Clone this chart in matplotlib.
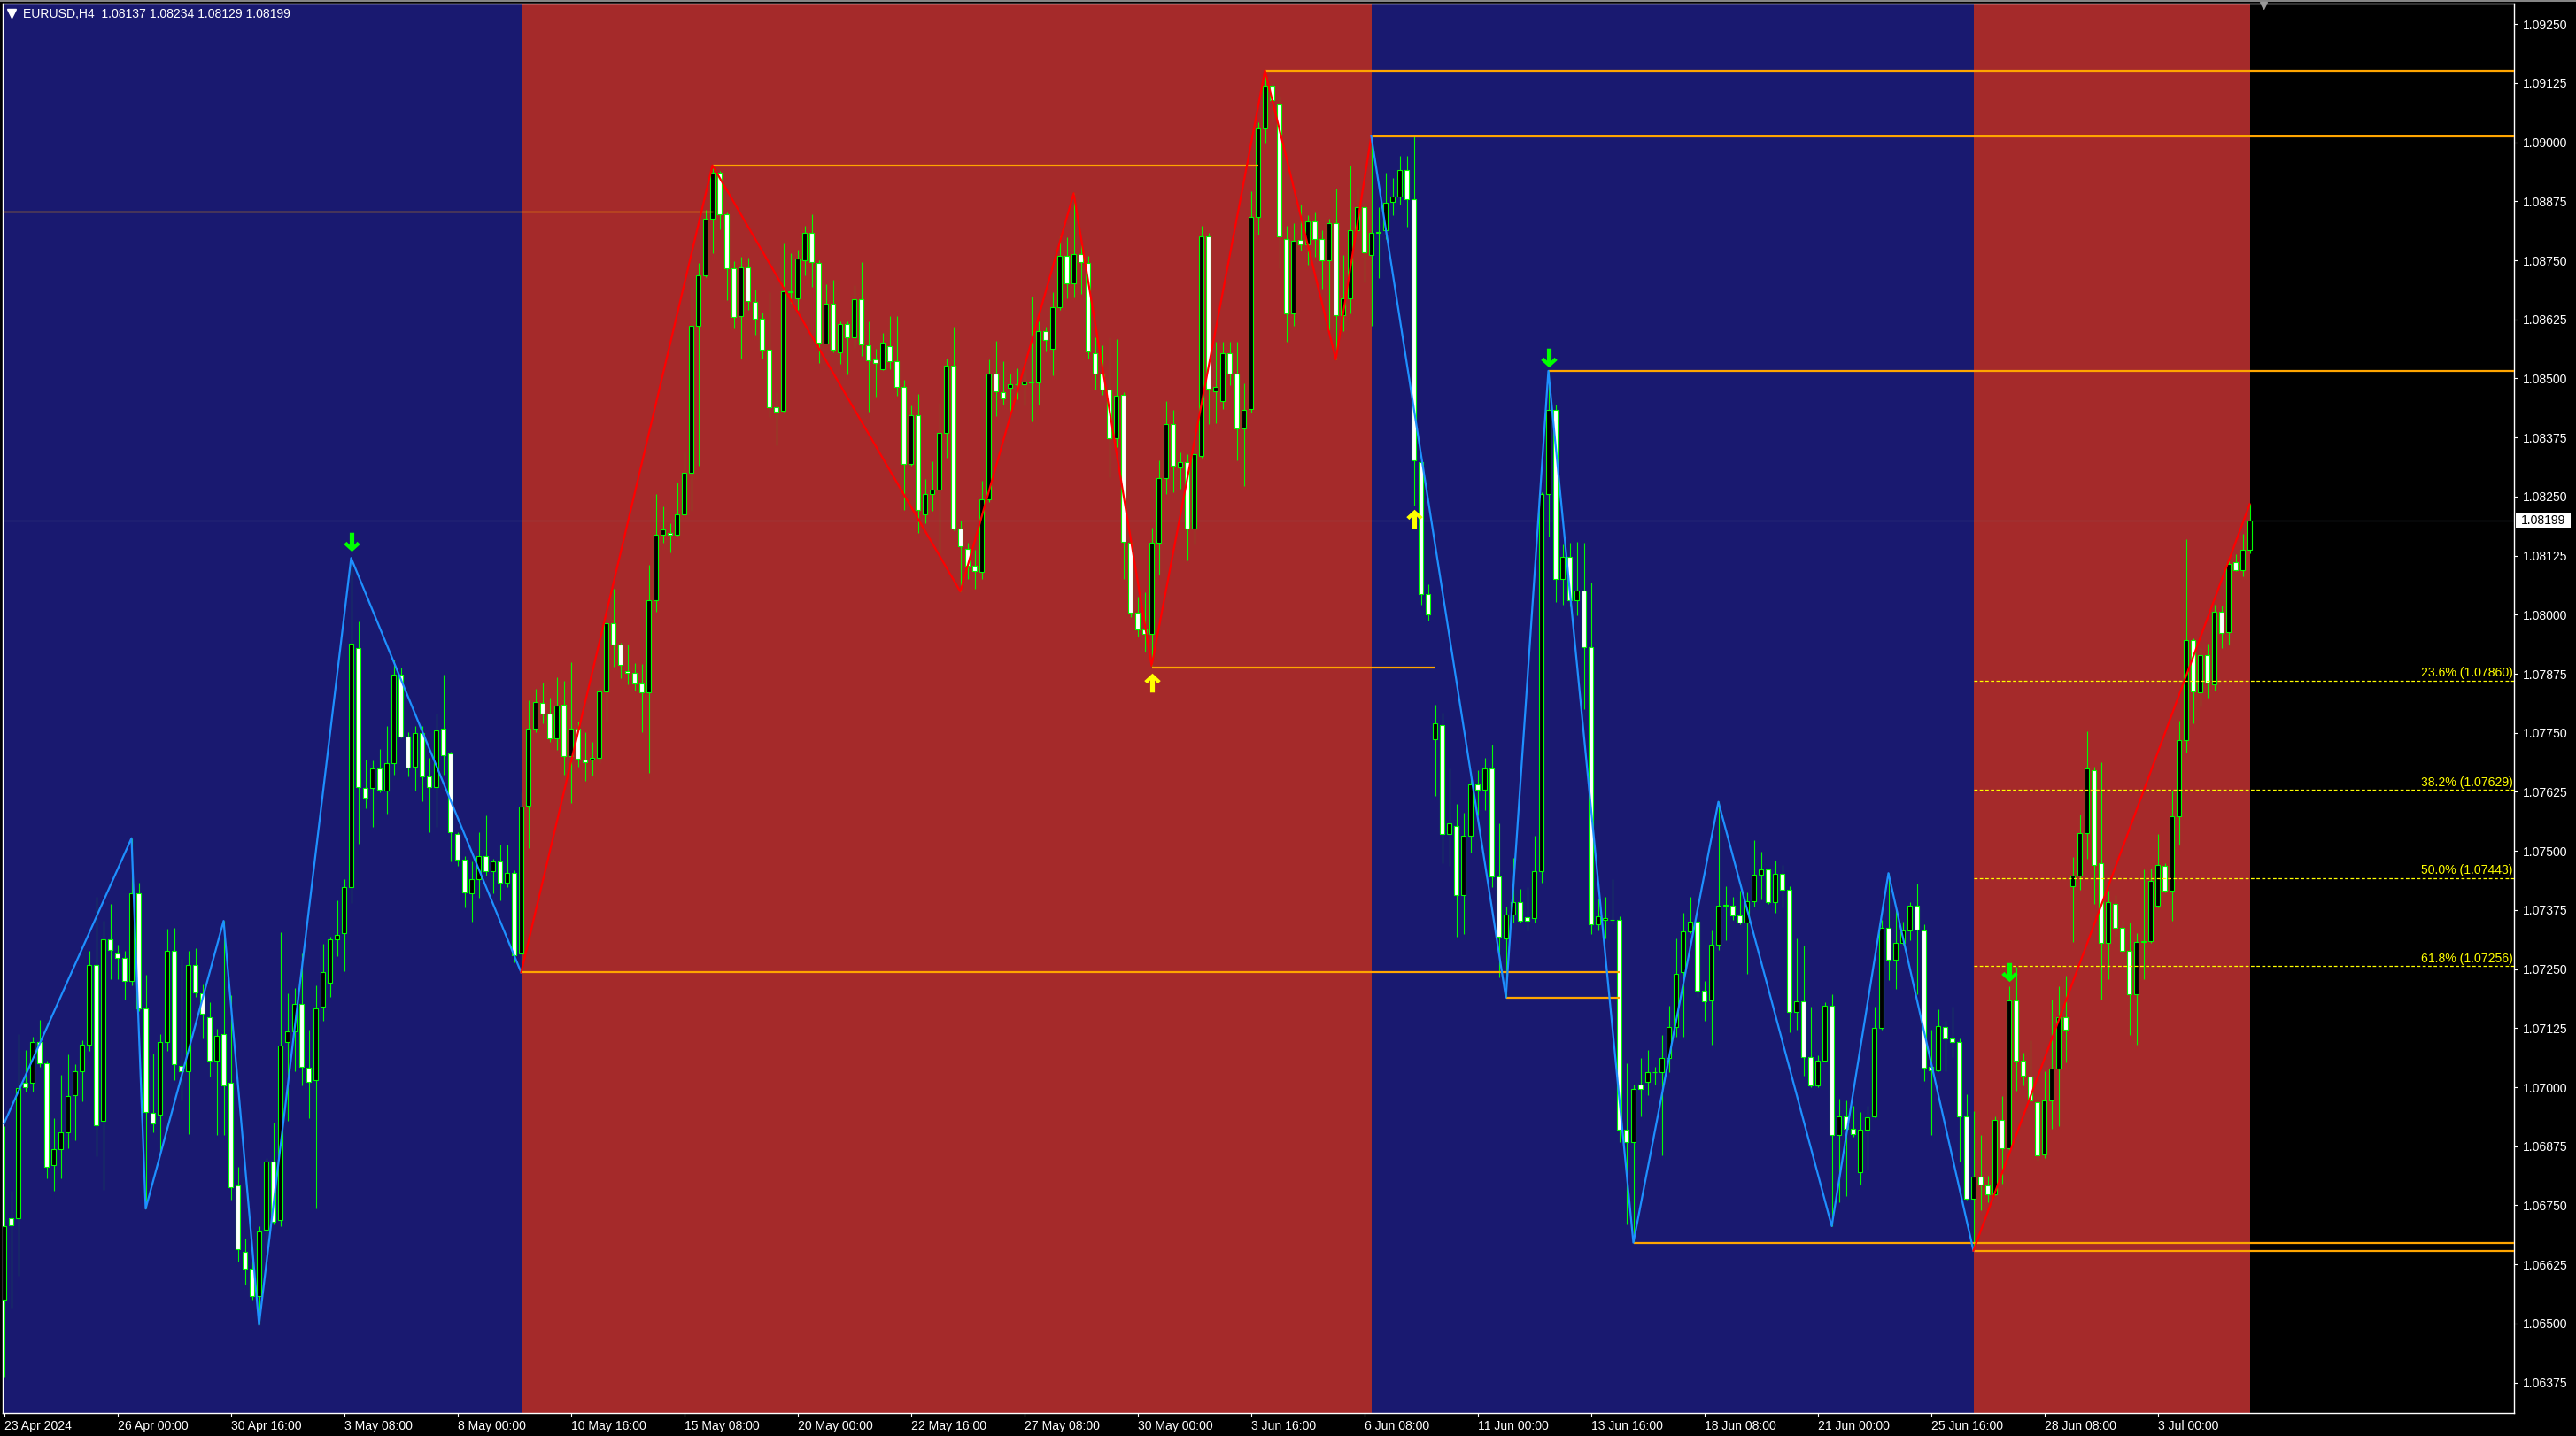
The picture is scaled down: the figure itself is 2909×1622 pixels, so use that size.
import numpy as np
import matplotlib
matplotlib.use("Agg")
import matplotlib.pyplot as plt
import matplotlib.transforms as mtransforms
from matplotlib.path import Path
from matplotlib.patches import Rectangle
from matplotlib.ticker import MultipleLocator, FormatStrFormatter

plt.rcParams['font.family'] = ['Liberation Sans', 'DejaVu Sans']

W, H, DPI = 2909, 1622, 100

# ------------------------------------------------------------
# EURUSD H4 candles (bar 0 = 23 Apr 2024 08:00)
# ------------------------------------------------------------
opens = [
    1.06551, 1.06722, 1.06722, 1.07009, 1.07009, 1.07096, 1.07051, 1.06836, 1.06868, 1.06905,
    1.06984, 1.07033, 1.07090, 1.07259, 1.06929, 1.07313, 1.07283, 1.07273, 1.07224, 1.07411,
    1.07167, 1.06945, 1.06942, 1.07096, 1.07289, 1.07045, 1.07033, 1.07259, 1.07198, 1.07149,
    1.07057, 1.07112, 1.07009, 1.06792, 1.06652, 1.06616, 1.06558, 1.06698, 1.06842, 1.06719,
    1.07096, 1.07118, 1.07177, 1.07041, 1.07015, 1.07170, 1.07222, 1.07313, 1.07326, 1.07423,
    1.07929, 1.07633, 1.07633, 1.07675, 1.07628, 1.07685, 1.07874, 1.07742, 1.07679, 1.07750,
    1.07657, 1.07636, 1.07758, 1.07706, 1.07535, 1.07482, 1.07411, 1.07441, 1.07490, 1.07457,
    1.07478, 1.07433, 1.07454, 1.07283, 1.07596, 1.07758, 1.07813, 1.07791, 1.07739, 1.07809,
    1.07700, 1.07759, 1.07693, 1.07693, 1.07697, 1.07837, 1.07982, 1.07937, 1.07881, 1.07877,
    1.07854, 1.07836, 1.08031, 1.08170, 1.08173, 1.08169, 1.08213, 1.08300, 1.08612, 1.08719,
    1.08838, 1.08936, 1.08847, 1.08733, 1.08633, 1.08735, 1.08662, 1.08627, 1.08561, 1.08440,
    1.08431, 1.08683, 1.08670, 1.08751, 1.08808, 1.08745, 1.08574, 1.08658, 1.08556, 1.08615,
    1.08588, 1.08667, 1.08571, 1.08540, 1.08520, 1.08569, 1.08536, 1.08483, 1.08320, 1.08423,
    1.08213, 1.08256, 1.08265, 1.08385, 1.08527, 1.08182, 1.08140, 1.08104, 1.08090, 1.08245,
    1.08511, 1.08471, 1.08480, 1.08487, 1.08487, 1.08494, 1.08492, 1.08600, 1.08563, 1.08651,
    1.08760, 1.08701, 1.08763, 1.08744, 1.08554, 1.08511, 1.08476, 1.08373, 1.08465, 1.08152,
    1.08004, 1.07968, 1.07959, 1.08152, 1.08289, 1.08403, 1.08311, 1.08322, 1.08182, 1.08336,
    1.08801, 1.08473, 1.08453, 1.08553, 1.08511, 1.08394, 1.08436, 1.08841, 1.09030, 1.09119,
    1.09080, 1.08796, 1.08637, 1.08794, 1.08784, 1.08833, 1.08796, 1.08751, 1.08829, 1.08634,
    1.08670, 1.08813, 1.08863, 1.08762, 1.08808, 1.08813, 1.08874, 1.08885, 1.08941, 1.08880,
    1.08322, 1.08043, 1.07737, 1.07767, 1.07536, 1.07553, 1.07407, 1.07533, 1.07640, 1.07630,
    1.07675, 1.07446, 1.07315, 1.07365, 1.07391, 1.07359, 1.07357, 1.07457, 1.08255, 1.08433,
    1.08076, 1.08122, 1.08031, 1.08051, 1.07931, 1.07345, 1.07355, 1.07355, 1.07355, 1.06910,
    1.06884, 1.07006, 1.07011, 1.07031, 1.07031, 1.07061, 1.07128, 1.07243, 1.07329, 1.07351,
    1.07205, 1.07183, 1.07301, 1.07385, 1.07385, 1.07364, 1.07348, 1.07394, 1.07450, 1.07461,
    1.07391, 1.07452, 1.07418, 1.07159, 1.07181, 1.07063, 1.07004, 1.07057, 1.07172, 1.06899,
    1.06939, 1.06912, 1.06821, 1.06910, 1.06939, 1.07125, 1.07337, 1.07269, 1.07305, 1.07332,
    1.07385, 1.07332, 1.07043, 1.07036, 1.07127, 1.07104, 1.07095, 1.06939, 1.06764, 1.06810,
    1.06792, 1.06774, 1.06931, 1.06871, 1.07183, 1.07057, 1.07022, 1.06968, 1.06858, 1.06971,
    1.07039, 1.07149, 1.07426, 1.07448, 1.07538, 1.07670, 1.07474, 1.07305, 1.07388, 1.07337,
    1.07289, 1.07197, 1.07308, 1.07310, 1.07385, 1.07469, 1.07416, 1.07574, 1.07735, 1.07947,
    1.07835, 1.07915, 1.07853, 1.08007, 1.07964, 1.08111, 1.08095, 1.08137,
]
highs = [
    1.06917, 1.06781, 1.07112, 1.07079, 1.07106, 1.07143, 1.07057, 1.06935, 1.07027, 1.07070,
    1.07048, 1.07100, 1.07289, 1.07402, 1.07352, 1.07387, 1.07301, 1.07289, 1.07527, 1.07433,
    1.07238, 1.07072, 1.07112, 1.07335, 1.07338, 1.07271, 1.07289, 1.07295, 1.07218, 1.07179,
    1.07124, 1.07352, 1.07194, 1.06832, 1.06680, 1.06633, 1.06706, 1.06850, 1.06926, 1.07328,
    1.07198, 1.07210, 1.07283, 1.07121, 1.07216, 1.07304, 1.07319, 1.07395, 1.07441, 1.08120,
    1.07986, 1.07694, 1.07691, 1.07716, 1.07764, 1.07905, 1.07889, 1.07752, 1.07764, 1.07764,
    1.07697, 1.07791, 1.07874, 1.07710, 1.07539, 1.07490, 1.07478, 1.07539, 1.07575, 1.07484,
    1.07514, 1.07514, 1.07460, 1.07624, 1.07819, 1.07844, 1.07856, 1.07825, 1.07868, 1.07861,
    1.07900, 1.07773, 1.07752, 1.07731, 1.07846, 1.07991, 1.08055, 1.07940, 1.07937, 1.07897,
    1.07895, 1.08106, 1.08256, 1.08229, 1.08193, 1.08279, 1.08345, 1.08694, 1.08744, 1.08857,
    1.08951, 1.08939, 1.08851, 1.08749, 1.08758, 1.08756, 1.08688, 1.08640, 1.08683, 1.08470,
    1.08785, 1.08765, 1.08772, 1.08823, 1.08847, 1.08751, 1.08699, 1.08708, 1.08620, 1.08620,
    1.08697, 1.08747, 1.08620, 1.08563, 1.08597, 1.08633, 1.08633, 1.08497, 1.08443, 1.08467,
    1.08288, 1.08324, 1.08449, 1.08542, 1.08610, 1.08200, 1.08152, 1.08138, 1.08283, 1.08540,
    1.08579, 1.08536, 1.08511, 1.08521, 1.08536, 1.08674, 1.08620, 1.08609, 1.08683, 1.08801,
    1.08799, 1.08892, 1.08788, 1.08760, 1.08588, 1.08570, 1.08588, 1.08583, 1.08470, 1.08156,
    1.08038, 1.08048, 1.08185, 1.08327, 1.08453, 1.08433, 1.08344, 1.08339, 1.08386, 1.08824,
    1.08808, 1.08578, 1.08578, 1.08578, 1.08578, 1.08490, 1.08896, 1.09042, 1.09152, 1.09125,
    1.09097, 1.08824, 1.08829, 1.08868, 1.08846, 1.08851, 1.08813, 1.08838, 1.08901, 1.08762,
    1.08951, 1.08905, 1.08871, 1.09013, 1.08863, 1.08935, 1.08925, 1.08972, 1.08972, 1.09013,
    1.08327, 1.08065, 1.07809, 1.07792, 1.07675, 1.07600, 1.07580, 1.07667, 1.07670, 1.07697,
    1.07725, 1.07558, 1.07382, 1.07486, 1.07419, 1.07424, 1.07533, 1.08260, 1.08516, 1.08445,
    1.08148, 1.08152, 1.08155, 1.08152, 1.08068, 1.07399, 1.07402, 1.07441, 1.07362, 1.07051,
    1.07006, 1.07061, 1.07078, 1.07044, 1.07111, 1.07173, 1.07315, 1.07369, 1.07402, 1.07359,
    1.07224, 1.07332, 1.07606, 1.07426, 1.07402, 1.07416, 1.07412, 1.07523, 1.07498, 1.07463,
    1.07480, 1.07471, 1.07426, 1.07315, 1.07299, 1.07170, 1.07068, 1.07179, 1.07197, 1.06975,
    1.06971, 1.06961, 1.06947, 1.06961, 1.07170, 1.07355, 1.07453, 1.07375, 1.07351, 1.07391,
    1.07431, 1.07345, 1.07122, 1.07165, 1.07140, 1.07170, 1.07104, 1.06985, 1.06950, 1.06899,
    1.06813, 1.06939, 1.06982, 1.07213, 1.07254, 1.07073, 1.07100, 1.06982, 1.07033, 1.07186,
    1.07213, 1.07237, 1.07488, 1.07577, 1.07753, 1.07678, 1.07687, 1.07416, 1.07407, 1.07355,
    1.07348, 1.07326, 1.07461, 1.07463, 1.07536, 1.07474, 1.07627, 1.07775, 1.08160, 1.07950,
    1.07929, 1.07939, 1.08022, 1.08020, 1.08122, 1.08128, 1.08171, 1.08234,
]
lows = [
    1.06387, 1.06533, 1.06600, 1.06990, 1.06990, 1.07043, 1.06807, 1.06780, 1.06807, 1.06871,
    1.06887, 1.06970, 1.07076, 1.06854, 1.06783, 1.07228, 1.07228, 1.07185, 1.07216, 1.07161,
    1.06743, 1.06905, 1.06865, 1.07076, 1.07015, 1.06972, 1.06901, 1.07191, 1.07104, 1.07023,
    1.06899, 1.06899, 1.06762, 1.06631, 1.06582, 1.06551, 1.06497, 1.06667, 1.06710, 1.06706,
    1.06929, 1.07033, 1.07003, 1.06935, 1.06743, 1.07140, 1.07191, 1.07277, 1.07246, 1.07389,
    1.07515, 1.07591, 1.07551, 1.07624, 1.07579, 1.07661, 1.07740, 1.07658, 1.07628, 1.07606,
    1.07539, 1.07551, 1.07661, 1.07478, 1.07469, 1.07380, 1.07350, 1.07401, 1.07447, 1.07411,
    1.07396, 1.07423, 1.07265, 1.07243, 1.07506, 1.07752, 1.07770, 1.07731, 1.07713, 1.07661,
    1.07602, 1.07679, 1.07648, 1.07659, 1.07686, 1.07773, 1.07891, 1.07866, 1.07852, 1.07840,
    1.07752, 1.07666, 1.08006, 1.08152, 1.08131, 1.08167, 1.08211, 1.08220, 1.08315, 1.08715,
    1.08765, 1.08815, 1.08665, 1.08606, 1.08542, 1.08645, 1.08592, 1.08542, 1.08418, 1.08358,
    1.08429, 1.08660, 1.08645, 1.08718, 1.08694, 1.08533, 1.08574, 1.08556, 1.08531, 1.08509,
    1.08565, 1.08547, 1.08429, 1.08461, 1.08517, 1.08520, 1.08463, 1.08222, 1.08315, 1.08173,
    1.08193, 1.08220, 1.08129, 1.08333, 1.08179, 1.08049, 1.08076, 1.08055, 1.08076, 1.08238,
    1.08420, 1.08445, 1.08422, 1.08456, 1.08443, 1.08409, 1.08445, 1.08558, 1.08506, 1.08645,
    1.08670, 1.08672, 1.08679, 1.08542, 1.08476, 1.08465, 1.08291, 1.08354, 1.08075, 1.07995,
    1.07954, 1.07921, 1.07892, 1.08085, 1.08255, 1.08260, 1.08266, 1.08115, 1.08148, 1.08332,
    1.08403, 1.08406, 1.08436, 1.08486, 1.08327, 1.08272, 1.08428, 1.08804, 1.08997, 1.09042,
    1.08734, 1.08578, 1.08612, 1.08771, 1.08741, 1.08757, 1.08690, 1.08603, 1.08540, 1.08600,
    1.08637, 1.08796, 1.08704, 1.08612, 1.08712, 1.08796, 1.08846, 1.08868, 1.08821, 1.08232,
    1.08021, 1.07988, 1.07616, 1.07474, 1.07469, 1.07318, 1.07324, 1.07496, 1.07575, 1.07586,
    1.07424, 1.07232, 1.07190, 1.07349, 1.07349, 1.07332, 1.07349, 1.07432, 1.08165, 1.08026,
    1.08021, 1.08018, 1.07998, 1.07800, 1.07324, 1.07332, 1.07315, 1.07345, 1.06884, 1.06710,
    1.06671, 1.06939, 1.06984, 1.07006, 1.06855, 1.07031, 1.07106, 1.07106, 1.07326, 1.07192,
    1.07140, 1.07090, 1.07291, 1.07312, 1.07355, 1.07344, 1.07240, 1.07383, 1.07398, 1.07388,
    1.07369, 1.07380, 1.07116, 1.07122, 1.07025, 1.07000, 1.07000, 1.07054, 1.06706, 1.06756,
    1.06770, 1.06896, 1.06794, 1.06826, 1.06936, 1.07122, 1.07226, 1.07208, 1.07302, 1.07312,
    1.07197, 1.07014, 1.06899, 1.07033, 1.07033, 1.07063, 1.06842, 1.06762, 1.06654, 1.06740,
    1.06756, 1.06772, 1.06796, 1.06867, 1.06993, 1.07004, 1.06968, 1.06845, 1.06850, 1.06912,
    1.06917, 1.07052, 1.07308, 1.07418, 1.07484, 1.07388, 1.07186, 1.07229, 1.07319, 1.07272,
    1.07111, 1.07090, 1.07229, 1.07305, 1.07380, 1.07412, 1.07353, 1.07514, 1.07708, 1.07771,
    1.07805, 1.07824, 1.07839, 1.07929, 1.07936, 1.08093, 1.08082, 1.08129,
]
closes = [
    1.06706, 1.06707, 1.06999, 1.07000, 1.07096, 1.07051, 1.06832, 1.06868, 1.06905, 1.06981,
    1.07033, 1.07090, 1.07259, 1.06920, 1.07313, 1.07291, 1.07274, 1.07224, 1.07411, 1.07167,
    1.06948, 1.06923, 1.07096, 1.07289, 1.07048, 1.07033, 1.07259, 1.07201, 1.07155, 1.07057,
    1.07109, 1.07003, 1.06789, 1.06658, 1.06616, 1.06558, 1.06694, 1.06842, 1.06716, 1.07088,
    1.07118, 1.07177, 1.07043, 1.07012, 1.07167, 1.07243, 1.07313, 1.07322, 1.07423, 1.07938,
    1.07636, 1.07612, 1.07675, 1.07630, 1.07685, 1.07874, 1.07742, 1.07677, 1.07750, 1.07657,
    1.07636, 1.07755, 1.07703, 1.07539, 1.07482, 1.07413, 1.07441, 1.07490, 1.07457, 1.07478,
    1.07433, 1.07454, 1.07279, 1.07594, 1.07758, 1.07816, 1.07791, 1.07739, 1.07807, 1.07700,
    1.07759, 1.07695, 1.07688, 1.07697, 1.07837, 1.07982, 1.07937, 1.07893, 1.07877, 1.07854,
    1.07836, 1.08031, 1.08170, 1.08181, 1.08169, 1.08213, 1.08300, 1.08612, 1.08719, 1.08838,
    1.08936, 1.08847, 1.08733, 1.08630, 1.08735, 1.08663, 1.08627, 1.08561, 1.08440, 1.08429,
    1.08685, 1.08685, 1.08754, 1.08808, 1.08747, 1.08576, 1.08658, 1.08561, 1.08615, 1.08588,
    1.08667, 1.08572, 1.08538, 1.08532, 1.08576, 1.08536, 1.08483, 1.08320, 1.08423, 1.08222,
    1.08256, 1.08265, 1.08385, 1.08527, 1.08182, 1.08145, 1.08104, 1.08093, 1.08245, 1.08511,
    1.08472, 1.08458, 1.08487, 1.08487, 1.08494, 1.08491, 1.08600, 1.08581, 1.08651, 1.08760,
    1.08701, 1.08763, 1.08747, 1.08558, 1.08511, 1.08476, 1.08373, 1.08463, 1.08155, 1.08004,
    1.07968, 1.07959, 1.08152, 1.08289, 1.08403, 1.08316, 1.08322, 1.08182, 1.08339, 1.08801,
    1.08478, 1.08483, 1.08553, 1.08511, 1.08394, 1.08433, 1.08841, 1.09030, 1.09119, 1.09089,
    1.08801, 1.08637, 1.08791, 1.08784, 1.08833, 1.08796, 1.08751, 1.08829, 1.08634, 1.08670,
    1.08813, 1.08863, 1.08767, 1.08808, 1.08810, 1.08871, 1.08885, 1.08941, 1.08880, 1.08327,
    1.08043, 1.08001, 1.07770, 1.07536, 1.07558, 1.07407, 1.07533, 1.07641, 1.07630, 1.07675,
    1.07446, 1.07319, 1.07365, 1.07391, 1.07352, 1.07352, 1.07457, 1.08255, 1.08433, 1.08076,
    1.08122, 1.08031, 1.08051, 1.07931, 1.07345, 1.07362, 1.07357, 1.07355, 1.06910, 1.06884,
    1.06997, 1.06997, 1.07031, 1.07031, 1.07061, 1.07128, 1.07240, 1.07329, 1.07351, 1.07205,
    1.07181, 1.07301, 1.07385, 1.07385, 1.07364, 1.07348, 1.07394, 1.07450, 1.07461, 1.07391,
    1.07452, 1.07418, 1.07159, 1.07181, 1.07063, 1.07004, 1.07057, 1.07172, 1.06899, 1.06939,
    1.06912, 1.06901, 1.06910, 1.06936, 1.07125, 1.07337, 1.07269, 1.07305, 1.07332, 1.07385,
    1.07334, 1.07041, 1.07036, 1.07129, 1.07104, 1.07095, 1.06939, 1.06764, 1.06810, 1.06794,
    1.06774, 1.06931, 1.06871, 1.07183, 1.07057, 1.07025, 1.06971, 1.06856, 1.06971, 1.07039,
    1.07149, 1.07122, 1.07448, 1.07538, 1.07674, 1.07471, 1.07305, 1.07391, 1.07337, 1.07289,
    1.07197, 1.07308, 1.07310, 1.07437, 1.07471, 1.07416, 1.07574, 1.07735, 1.07947, 1.07837,
    1.07915, 1.07857, 1.08007, 1.07961, 1.08108, 1.08095, 1.08138, 1.08199,
]

x_labels = ["23 Apr 2024", "26 Apr 00:00", "30 Apr 16:00", "3 May 08:00", "8 May 00:00",
            "10 May 16:00", "15 May 08:00", "20 May 00:00", "22 May 16:00", "27 May 08:00",
            "30 May 00:00", "3 Jun 16:00", "6 Jun 08:00", "11 Jun 00:00", "13 Jun 16:00",
            "18 Jun 08:00", "21 Jun 00:00", "25 Jun 16:00", "28 Jun 08:00", "3 Jul 00:00"]

# zigzag swing points (bar index, price)
zz_blue_1_bars = [0, 18, 20, 31, 36, 49, 73]
zz_blue_1_px = [1.06923, 1.07527, 1.06743, 1.07352, 1.06497, 1.08120, 1.07243]
zz_red_1_bars = [73, 100, 135, 151, 162, 178, 188, 193]
zz_red_1_px = [1.07243, 1.08951, 1.08049, 1.08892, 1.07892, 1.09152, 1.08540, 1.09013]
zz_blue_2_bars = [193, 212, 218, 230, 242, 258, 266, 278]
zz_blue_2_px = [1.09013, 1.07190, 1.08516, 1.06671, 1.07604, 1.06706, 1.07453, 1.06654]
zz_red_2_bars = [278, 317]
zz_red_2_px = [1.06654, 1.08234]

# trend zone boundaries (bar index)
zone_edges = [73, 193, 278, 317]

# support / resistance levels: price, start bar, end bar (None = chart edge)
level_px = [1.08853, 1.08951, 1.09152, 1.09013, 1.08516, 1.07243, 1.07889, 1.07190, 1.06671, 1.06654]
level_from = [None, 100, 178, 193, 218, 73, 162, 212, 230, 278]
level_to = [100, 177, None, None, None, 228, 202, 228, None, None]

fib_px = [1.07860, 1.07629, 1.07443, 1.07256]
fib_text = ["23.6% (1.07860)", "38.2% (1.07629)", "50.0% (1.07443)", "61.8% (1.07256)"]
fib_from = 278

arrow_dn_bars = [49, 218, 283]
arrow_dn_px = [1.08154, 1.08544, 1.07244]
arrow_up_bars = [162, 199]
arrow_up_px = [1.07856, 1.08203]

last_price = 1.08199
title = "EURUSD,H4  1.08137 1.08234 1.08129 1.08199"

# ------------------------------------------------------------
# figure
# ------------------------------------------------------------
NAVY = '#191970'
BROWN = '#a52a2a'
LIME = '#00ff00'
ORANGE = '#ffa500'
FONT = 10.1

fig = plt.figure(figsize=(W / DPI, H / DPI), dpi=DPI, facecolor='black')
ax = fig.add_axes([3 / W, 26 / H, 2836 / W, 1592 / H])
ax.set_facecolor('black')

X0, X1 = -0.1875, 354.31
ax.set_xlim(X0, X1)
ax.set_ylim(1.063105, 1.092935)

# zones
ax.axvspan(X0, zone_edges[0], color=NAVY, lw=0, zorder=0)
ax.axvspan(zone_edges[0], zone_edges[1], color=BROWN, lw=0, zorder=0)
ax.axvspan(zone_edges[1], zone_edges[2], color=NAVY, lw=0, zorder=0)
ax.axvspan(zone_edges[2], zone_edges[3], color=BROWN, lw=0, zorder=0)

# candles
o = np.array(opens)
c = np.array(closes)
idx = np.arange(len(o))
bull = c >= o
ax.vlines(idx, lows, highs, color=LIME, lw=0.8, zorder=3)
ax.bar(idx, np.maximum(np.abs(c - o), 1e-6), bottom=np.minimum(o, c), width=0.62,
       color=np.where(bull, 'black', 'white'), edgecolor=LIME, linewidth=0.8, zorder=4)

# current price line
ax.axhline(last_price, color='#7f8a96', lw=0.8, zorder=2)

# levels
for p, a, b in zip(level_px, level_from, level_to):
    a = X0 if a is None else a
    b = X1 if b is None else b
    lw = 1.0 if a == X0 else 1.6
    ax.hlines(p, a, b, color=ORANGE, lw=lw, zorder=5)

# fibonacci
tr = mtransforms.blended_transform_factory(ax.transAxes, ax.transData)
for p, t in zip(fib_px, fib_text):
    ax.hlines(p, fib_from, X1, color='#ffff00', lw=0.9, linestyle=(0, (3, 2)), zorder=5)
    ax.text(0.9995, p + 0.00003, t, transform=tr, ha='right', va='bottom',
            color='#ffff00', fontsize=FONT, zorder=6)

# zigzags
ax.plot(zz_blue_1_bars, zz_blue_1_px, color='#1e90ff', lw=1.6, zorder=6)
ax.plot(zz_red_1_bars, zz_red_1_px, color='#ff0000', lw=1.6, zorder=6)
ax.plot(zz_blue_2_bars, zz_blue_2_px, color='#1e90ff', lw=1.6, zorder=6)
ax.plot(zz_red_2_bars, zz_red_2_px, color='#ff0000', lw=1.6, zorder=6)

# arrows (thick stem + chevron head)
dn = [(-0.24, 1.0), (0.24, 1.0), (0.24, -0.28), (0.56, 0.06), (0.86, -0.22), (0.0, -1.0),
      (-0.86, -0.22), (-0.56, 0.06), (-0.24, -0.28), (-0.24, 1.0)]
dn_path = Path(dn, closed=True)
up_path = Path([(x, -y) for x, y in dn], closed=True)
ax.plot(arrow_dn_bars, arrow_dn_px, ls='none', marker=dn_path, ms=15.5,
        color=LIME, mec=LIME, mew=0, zorder=7)
ax.plot(arrow_up_bars, arrow_up_px, ls='none', marker=up_path, ms=15.5,
        color='#ffff00', mec='#ffff00', mew=0, zorder=7)

# axes styling
for s in ax.spines.values():
    s.set_color('white')
    s.set_linewidth(1.0)
ax.yaxis.tick_right()
ax.yaxis.set_major_locator(MultipleLocator(0.00125))
ax.yaxis.set_major_formatter(FormatStrFormatter('%.5f'))
ax.tick_params(axis='y', colors='white', length=3, width=0.8, pad=4, labelsize=FONT)
ax.set_xticks(np.arange(0, len(x_labels) * 16, 16))
ax.set_xticklabels(x_labels, ha='left')
ax.tick_params(axis='x', colors='white', length=3, width=0.8, pad=3, labelsize=FONT)

# current price tag
y_last = 27.2 + (1.0925 - last_price) * 53370
fig.add_artist(Rectangle((2841 / W, 1 - (y_last + 8) / H), 62 / W, 16 / H,
                         transform=fig.transFigure, facecolor='white', edgecolor='none', zorder=10))
fig.text(2847 / W, 1 - y_last / H, "1.08199", color='black', fontsize=FONT,
         ha='left', va='center', zorder=11)

# header
fig.text(25.5 / W, 1 - 16 / H, title, color='white', fontsize=FONT, ha='left', va='center')
fig.lines.append(plt.Line2D([13 / W], [1 - 15 / H], marker='v', ms=6.5, color='white',
                            transform=fig.transFigure))
fig.lines.append(plt.Line2D([2556 / W], [1 - 6 / H], marker='v', ms=6, color='#9a9a9a',
                            transform=fig.transFigure))
fig.lines.append(plt.Line2D([0, 1], [1 - 0.8 / H, 1 - 0.8 / H], color='#a0a0a0', lw=1.2,
                            transform=fig.transFigure))

fig.savefig("out.png", dpi=DPI, facecolor='black')
